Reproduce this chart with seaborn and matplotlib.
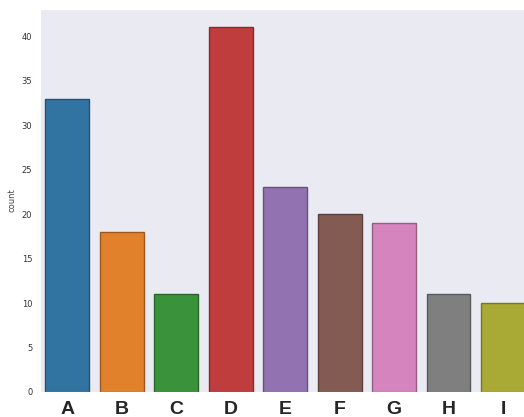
import pandas as pd
import seaborn as sns
import matplotlib.pyplot as plt

# category counts
categories = ['A', 'B', 'C', 'D', 'E', 'F', 'G', 'H', 'I']
counts = [33, 18, 11, 41, 23, 20, 19, 11, 10]

# expand counts into rows so countplot does the counting
df = pd.DataFrame({'label': [c for c, n in zip(categories, counts) for _ in range(n)]})

sns.set_style('dark')
fig = plt.figure(figsize=(5.24, 4.17), dpi=100)
ax = fig.add_axes([0.0763, 0.06, 0.936, 0.918])

sns.countplot(data=df, x='label', hue='label', order=categories,
              palette='tab10', saturation=0.75, legend=False, ax=ax)

# darker outline in the same hue as each bar
for patch in ax.patches:
    r, g, b, a = patch.get_facecolor()
    patch.set_edgecolor((r * 0.7, g * 0.7, b * 0.7))
    patch.set_linewidth(1.0)

ax.set_xlim(-0.5, 8.5)
ax.set_xlabel('')
ax.set_ylabel('count', fontsize=6, color='#444444')
ax.tick_params(axis='y', labelsize=6, labelcolor='#333333', pad=2)
ax.tick_params(axis='x', labelsize=14, pad=3)
for t in ax.get_xticklabels():
    t.set_fontweight('bold')
    t.set_family('Liberation Sans')

fig.savefig('out.png', dpi=100)
